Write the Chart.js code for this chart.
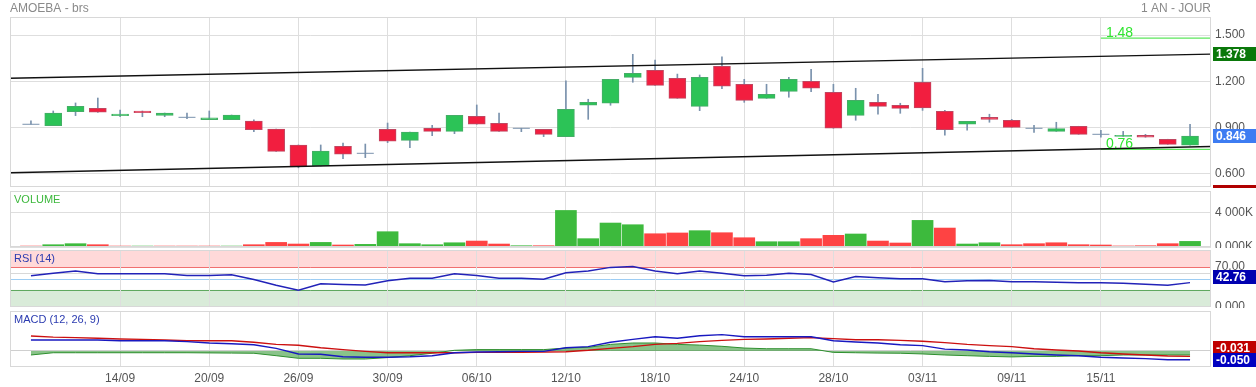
<!DOCTYPE html>
<html>
<head>
<meta charset="utf-8">
<title>AMOEBA - brs</title>
<script src="https://cdn.jsdelivr.net/npm/chart.js@4.4.1/dist/chart.umd.min.js"></script>
<style>
  html, body { margin: 0; padding: 0; background: #fff; }
  #board { position: relative; width: 1256px; height: 387px; overflow: hidden; }
  .pane { position: absolute; left: 0; width: 1256px; }
</style>
</head>
<body>
<div id="board">
  <div class="pane" style="top:0;height:188px"><canvas id="price" width="1256" height="188"></canvas></div>
  <div class="pane" style="top:188px;height:60px"><canvas id="volume" width="1256" height="60"></canvas></div>
  <div class="pane" style="top:248px;height:60px"><canvas id="rsi" width="1256" height="60"></canvas></div>
  <div class="pane" style="top:308px;height:79px"><canvas id="macd" width="1256" height="79"></canvas></div>
</div>
<script>
// one label per session, only every 4th one is printed on the chart
const days = ['', '', '', '',
  '14/09', '', '', '', '20/09', '', '', '', '26/09', '', '', '', '30/09', '', '', '',
  '06/10', '', '', '', '12/10', '', '', '', '18/10', '', '', '', '24/10', '', '', '',
  '28/10', '', '', '', '03/11', '', '', '', '09/11', '', '', '', '15/11', '', '', '', ''];

const opens = [0.922, 0.913, 1.003, 1.025, 0.977, 1.008, 0.980, 0.967, 0.952, 0.952,
  0.943, 0.891, 0.788, 0.652, 0.779, 0.734, 0.889, 0.818, 0.896, 0.876,
  0.974, 0.928, 0.896, 0.889, 0.842, 1.045, 1.058, 1.226, 1.271, 1.220,
  1.038, 1.297, 1.181, 1.090, 1.135, 1.200, 1.129, 0.980, 1.064, 1.045,
  1.194, 1.006, 0.922, 0.967, 0.948, 0.896, 0.876, 0.909, 0.857, 0.844,
  0.851, 0.825, 0.786];
const highs = [0.945, 1.008, 1.060, 1.092, 1.014, 1.008, 0.995, 0.995, 1.008, 0.982,
  0.950, 0.891, 0.788, 0.788, 0.801, 0.794, 0.930, 0.872, 0.915, 0.980,
  1.047, 0.995, 0.896, 0.889, 1.204, 1.084, 1.213, 1.375, 1.338, 1.247,
  1.241, 1.358, 1.213, 1.181, 1.226, 1.278, 1.181, 1.155, 1.116, 1.058,
  1.284, 1.012, 0.941, 0.987, 0.954, 0.915, 0.935, 0.909, 0.883, 0.876,
  0.857, 0.825, 0.922];
const lows = [0.922, 0.913, 0.978, 0.999, 0.971, 0.971, 0.971, 0.958, 0.952, 0.952,
  0.874, 0.747, 0.640, 0.652, 0.699, 0.706, 0.803, 0.770, 0.848, 0.861,
  0.922, 0.876, 0.874, 0.842, 0.842, 0.954, 1.045, 1.194, 1.174, 1.090,
  1.010, 1.152, 1.064, 1.090, 1.097, 1.133, 0.896, 0.948, 0.987, 0.993,
  1.012, 0.851, 0.883, 0.935, 0.902, 0.870, 0.876, 0.857, 0.838, 0.844,
  0.838, 0.792, 0.786];
const closes = [0.922, 0.995, 1.038, 1.000, 0.988, 0.997, 0.995, 0.967, 0.963, 0.982,
  0.887, 0.747, 0.647, 0.749, 0.728, 0.734, 0.812, 0.872, 0.876, 0.980,
  0.922, 0.876, 0.896, 0.857, 1.019, 1.064, 1.213, 1.252, 1.174, 1.090,
  1.226, 1.168, 1.077, 1.116, 1.213, 1.155, 0.896, 1.077, 1.038, 1.025,
  1.028, 0.887, 0.941, 0.954, 0.902, 0.896, 0.894, 0.857, 0.857, 0.851,
  0.838, 0.792, 0.846];

// volume in thousands
const volumes = [110, 270, 390, 270, 110, 110, 110, 110, 110, 110,
  270, 540, 350, 540, 235, 310, 1800, 390, 270, 500,
  700, 350, 150, 150, 4300, 980, 2820, 2620, 1560, 1650,
  1920, 1680, 1090, 620, 620, 980, 1370, 1530, 700, 470,
  3130, 2230, 350, 500, 270, 390, 500, 270, 235, 120,
  150, 390, 660];

const rsi = [54.7, 59.4, 63, 58.2, 58.2, 58.2, 58.2, 55.4, 55.4, 56.4,
  48.3, 38.3, 29.5, 40.6, 39.5, 38.8, 45.9, 50.6, 50.6, 58.2,
  55.4, 50.6, 50.6, 48.9, 60, 63, 69.5, 71, 63, 58.2,
  63, 59.4, 54.7, 55.9, 59.4, 57.1, 44.1, 53.6, 51.2, 49.4,
  49.4, 44.1, 45.9, 46.5, 44.1, 44.1, 43.6, 42.4, 42.4, 41.8,
  40, 38.3, 42.76];

const macd = [0.063, 0.063, 0.063, 0.063, 0.059, 0.059, 0.059, 0.054, 0.046, 0.042,
  0.036, 0.015, -0.017, -0.019, -0.033, -0.036, -0.036, -0.033, -0.027, -0.010,
  -0.006, -0.004, -0.002, -0.002, 0.019, 0.025, 0.050, 0.067, 0.082, 0.073,
  0.088, 0.094, 0.082, 0.082, 0.082, 0.082, 0.059, 0.052, 0.046, 0.036,
  0.031, 0.011, 0.006, -0.004, -0.010, -0.017, -0.023, -0.027, -0.036, -0.040,
  -0.044, -0.050, -0.050];
const signal = [0.086, 0.080, 0.077, 0.073, 0.069, 0.067, 0.063, 0.059, 0.059, 0.059,
  0.050, 0.038, 0.033, 0.019, 0.008, -0.002, -0.010, -0.010, -0.010, -0.010,
  -0.008, -0.008, -0.008, -0.006, -0.004, 0.004, 0.015, 0.025, 0.038, 0.044,
  0.054, 0.061, 0.067, 0.069, 0.073, 0.077, 0.071, 0.065, 0.065, 0.061,
  0.056, 0.048, 0.038, 0.031, 0.025, 0.013, 0.006, 0.000, -0.010, -0.017,
  -0.023, -0.029, -0.031];
const histogram = [-0.023, -0.010, -0.010, -0.010, -0.010, -0.010, -0.010, -0.010, -0.011, -0.012,
  -0.013, -0.027, -0.042, -0.042, -0.046, -0.046, -0.038, -0.027, -0.013, 0.004,
  0.008, 0.008, 0.008, 0.008, 0.017, 0.021, 0.038, 0.046, 0.046, 0.038,
  0.034, 0.027, 0.017, 0.013, 0.013, 0.013, -0.008, -0.010, -0.012, -0.013,
  -0.017, -0.023, -0.027, -0.031, -0.034, -0.031, -0.031, -0.027, -0.027, -0.023,
  -0.023, -0.023, -0.023];

// trend channel (value at left edge, value at right edge) and the two green levels
const upperChannel = [1.220, 1.376];
const lowerChannel = [0.608, 0.778];
const levels = [1.48, 0.76];
const levelFrom = '15/11';
const channelTag = 1.378;

const priceTicks = [0.6, 0.9, 1.2, 1.5];
const volumeTicks = [0, 4000];
const rsiTicks = [0, 70];

const X_MIN = -0.94, X_MAX = 52.94;
const UP = '#2cc357', DOWN = '#f21e3f', WICK = '#7a92ad';
const GRID = '#dedede';
const FONT = '"Liberation Sans", Arial, sans-serif';

Chart.defaults.font.family = FONT;
Chart.defaults.font.size = 12;
Chart.defaults.animation = false;

// scales keep no extra padding of their own, the pane sizes are set by layout.padding
function noPad(s) {
    s.paddingTop = s.paddingBottom = s.paddingLeft = s.paddingRight = 0;
}

function xScale(showDates) {
    return {
        type: 'linear',
        min: X_MIN,
        max: X_MAX,
        offset: false,
        afterBuildTicks: s => { s.ticks = days.map((d, i) => d ? {value: i} : null).filter(Boolean); },
        afterFit: s => { s.height = showDates ? 20 : 0; noPad(s); },
        grid: {color: GRID, drawTicks: false, offset: false},
        border: {display: false},
        ticks: {
            display: showDates, autoSkip: false, maxRotation: 0, padding: 4,
            color: '#555', font: {size: 12},
            callback: v => days[v] || ''
        }
    };
}

function yScale(min, max, ticks, fmt, gridColor) {
    return {
        position: 'right',
        min, max,
        afterBuildTicks: s => { s.ticks = ticks.map(v => ({value: v})); },
        afterFit: s => { s.width = 45; noPad(s); },
        grid: {color: gridColor ?? GRID, drawTicks: false},
        border: {display: false},
        ticks: {padding: 4, color: '#555', font: {size: 12}, callback: fmt}
    };
}

function baseOptions(top, bottom, y, showDates) {
    return {
        responsive: false,
        animation: false,
        events: [],
        layout: {autoPadding: false, padding: {left: 10, right: 0, top, bottom}},
        plugins: {legend: {display: false}, tooltip: {enabled: false}},
        scales: {x: xScale(showDates), y}
    };
}

function drawTag(ctx, y, bg, text) {
    ctx.fillStyle = bg;
    ctx.fillRect(1213, Math.round(y - 7), 43, 14);
    ctx.fillStyle = '#fff';
    ctx.font = 'bold 12px ' + FONT;
    ctx.textAlign = 'left';
    ctx.textBaseline = 'middle';
    ctx.fillText(text, 1216, Math.round(y) + 0.5);
}

// outline of the pane, its caption and the value tags on the right
function frame({caption, captionColor, under, over}) {
    return {
        id: 'frame',
        beforeDraw(chart) {
            if (under) under(chart);
        },
        afterDraw(chart) {
            const {ctx, chartArea: a} = chart;
            ctx.save();
            ctx.strokeStyle = '#d8d8d8';
            ctx.lineWidth = 1;
            ctx.strokeRect(a.left + 0.5, a.top + 0.5, a.right - a.left - 1, a.bottom - a.top - 1);
            if (caption) {
                ctx.fillStyle = captionColor;
                ctx.font = '11px ' + FONT;
                ctx.textAlign = 'left';
                ctx.textBaseline = 'middle';
                ctx.fillText(caption, a.left + 4, a.top + 9);
            }
            if (over) over(chart, ctx);
            ctx.restore();
        }
    };
}

const idx = closes.map((c, i) => i);
const line = (ys, color, width) => ({
    type: 'line', data: ys.map((y, i) => ({x: i, y})),
    borderColor: color, borderWidth: width, pointRadius: 0, tension: 0
});

// ---- price pane
const levelStart = days.indexOf(levelFrom);
new Chart(document.getElementById('price'), {
    type: 'bar',
    data: {
        datasets: [
            {type: 'line', order: -1, data: [{x: X_MIN, y: upperChannel[0]}, {x: X_MAX, y: upperChannel[1]}],
                borderColor: '#111', borderWidth: 1.4, pointRadius: 0},
            {type: 'line', order: -1, data: [{x: X_MIN, y: lowerChannel[0]}, {x: X_MAX, y: lowerChannel[1]}],
                borderColor: '#111', borderWidth: 1.4, pointRadius: 0},
            ...levels.map(v => ({type: 'line', order: -1, data: [{x: levelStart, y: v}, {x: X_MAX, y: v}],
                borderColor: '#35e035', borderWidth: 1, pointRadius: 0})),
            {
                order: 0, grouped: false, barThickness: 17, borderWidth: 1, borderSkipped: false,
                data: idx.map(i => ({x: i, y: opens[i] === closes[i] ? null : [opens[i], closes[i]]})),
                backgroundColor: ctx => closes[ctx.dataIndex] > opens[ctx.dataIndex] ? UP : DOWN,
                borderColor: ctx => closes[ctx.dataIndex] > opens[ctx.dataIndex] ? '#45ad67' : '#c04761'
            },
            {
                type: 'line', order: 0, showLine: false,
                data: idx.map(i => ({x: i, y: opens[i] === closes[i] ? closes[i] : null})),
                pointStyle: 'line', pointRadius: 8.5, pointBorderWidth: 1, pointBorderColor: WICK
            },
            {
                order: 1, grouped: false, barThickness: 1,
                data: idx.map(i => ({x: i, y: [lows[i], highs[i]]})),
                backgroundColor: WICK
            }
        ]
    },
    options: baseOptions(17, 1, yScale(0.5158, 1.6166, priceTicks, v => v.toFixed(3)), false),
    plugins: [frame({
        over(chart, ctx) {
            const y = chart.scales.y, x = chart.scales.x;
            ctx.font = '12px ' + FONT;
            ctx.fillStyle = '#8a8a8a';
            ctx.textBaseline = 'middle';
            ctx.textAlign = 'left';
            ctx.fillText('AMOEBA - brs', 10, 9);
            ctx.textAlign = 'right';
            ctx.fillText('1 AN - JOUR', 1211, 9);

            ctx.font = '14px ' + FONT;
            ctx.fillStyle = '#2ee62e';
            ctx.textAlign = 'left';
            ctx.textBaseline = 'alphabetic';
            levels.forEach(v => ctx.fillText(v.toFixed(2), x.getPixelForValue(levelStart) + 5, y.getPixelForValue(v) - 1.5));

            drawTag(ctx, y.getPixelForValue(channelTag), '#0a780a', channelTag.toFixed(3));
            drawTag(ctx, y.getPixelForValue(closes[closes.length - 1]), '#3d7cf2', closes[closes.length - 1].toFixed(3));
            ctx.fillStyle = '#b00000';
            ctx.fillRect(1213, 185, 43, 3);
        }
    })]
});

// ---- volume pane
new Chart(document.getElementById('volume'), {
    type: 'bar',
    data: {
        datasets: [{
            grouped: false, barThickness: 21,
            data: volumes.map((v, i) => ({x: i, y: v})),
            backgroundColor: idx.map(i => closes[i] > (i ? closes[i - 1] : opens[0]) ? '#3dba3d' : '#fe4343')
        }]
    },
    options: baseOptions(3, 1, yScale(0, 6588, volumeTicks, v => v === 0 ? '0.000K' : (v / 1000) + ' 000K'), false),
    plugins: [frame({caption: 'VOLUME', captionColor: '#3cb83c'})]
});

// ---- RSI pane
new Chart(document.getElementById('rsi'), {
    type: 'line',
    data: {datasets: [line(rsi, '#2222b8', 1.5)]},
    options: baseOptions(2, 1, yScale(0, 100, rsiTicks, v => v === 0 ? '0.000' : v.toFixed(2), 'rgba(0,0,0,0)'), false),
    plugins: [frame({
        caption: 'RSI (14)', captionColor: '#2b3bb0',
        under(chart) {
            const {ctx, chartArea: a, scales: {y}} = chart;
            const band = (from, to, color) => {
                ctx.fillStyle = color;
                ctx.fillRect(a.left, y.getPixelForValue(to), a.right - a.left, y.getPixelForValue(from) - y.getPixelForValue(to));
            };
            const hline = (v, color) => {
                const py = Math.round(y.getPixelForValue(v)) + 0.5;
                ctx.strokeStyle = color;
                ctx.beginPath(); ctx.moveTo(a.left, py); ctx.lineTo(a.right, py); ctx.stroke();
            };
            ctx.save();
            band(70, 100, '#ffd9d9');
            band(0, 30, '#d9ebd9');
            ctx.lineWidth = 1;
            hline(70, '#f07070');
            hline(60, '#d8d8d8');
            hline(50, '#9dcdf4');
            hline(30, '#5fa85f');
            ctx.restore();
        },
        over(chart, ctx) {
            drawTag(ctx, 28.5, '#0000b0', rsi[rsi.length - 1].toFixed(2));
        }
    })]
});

// ---- MACD pane
new Chart(document.getElementById('macd'), {
    type: 'line',
    data: {
        datasets: [
            {...line(histogram, '#2f8f2f', 1), fill: 'origin', backgroundColor: 'rgba(40,145,40,0.55)', order: 3},
            {...line(signal, '#cc1010', 1.4), order: 2},
            {...line(macd, '#1818c0', 1.4), order: 1}
        ]
    },
    options: baseOptions(3, 0, yScale(-0.092, 0.2299, [0], () => '', '#cfcfcf'), true),
    plugins: [frame({
        caption: 'MACD (12, 26, 9)', captionColor: '#2b3bb0',
        over(chart, ctx) {
            const y = chart.scales.y;
            const mY = y.getPixelForValue(macd[macd.length - 1]);
            const sY = Math.min(y.getPixelForValue(signal[signal.length - 1]), mY - 12);
            drawTag(ctx, sY, '#c00000', signal[signal.length - 1].toFixed(3));
            drawTag(ctx, mY, '#0000c0', macd[macd.length - 1].toFixed(3));
        }
    })]
});
</script>
</body>
</html>
